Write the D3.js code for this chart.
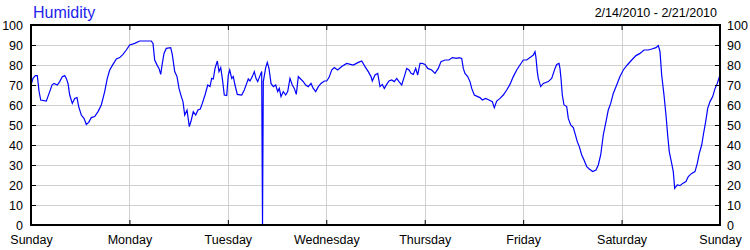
<!DOCTYPE html>
<html>
<head>
<meta charset="utf-8">
<script src="https://cdn.jsdelivr.net/npm/d3@7"></script>
<style>
  body { margin: 0; background: #fff; }
  text { font-family: "Liberation Sans", Arial, sans-serif; }
</style>
</head>
<body>
<div id="chart"></div>
<script>
// Humidity readings, hours since Sunday 2/14/2010 00:00
const hours = [
  0, 0.49, 1.05, 1.54, 1.95, 2.37, 3.73, 3.97, 4.56, 5.12, 5.61, 6.41, 7.0, 7.63, 8.22, 8.61,
  9.02, 9.44, 10.07, 10.66, 11.22, 11.63, 12.26, 12.92, 13.48, 14.07, 14.7, 15.53, 16.34, 17.14,
  17.97, 18.6, 19.19, 19.99, 20.8, 21.63, 22.43, 23.24, 24.07, 25.29, 26.5, 29.33, 29.75, 30.16,
  30.8, 31.21, 31.63, 32.02, 32.43, 32.99, 34.06, 34.45, 35.04, 35.6, 36.09, 36.65, 37.06, 37.48,
  38.04, 38.6, 39.09, 39.57, 40.16, 40.72, 41.28, 41.77,
  42.43, 43.09, 43.65, 44.06, 44.45, 44.87, 45.43, 45.84, 46.26, 46.65, 47.13, 47.72, 48.11,
  48.45, 48.94, 49.33, 49.74, 50.3, 51.38, 52.01, 52.59, 52.98, 53.4, 53.96, 54.45, 54.86, 55.28,
  55.84, 56.25, 56.45, 56.64, 57.23, 57.62, 58.03, 58.52, 59.08, 59.67, 60.15, 60.54, 60.96,
  61.52, 62.1, 62.59, 63.15, 63.71, 64.2, 64.69, 65.18, 65.76, 66.39, 66.98, 67.61, 68.27, 68.83,
  69.42, 70.05, 70.71, 71.52, 72.1, 72.66, 73.32, 73.95, 74.78, 75.76, 76.98, 78.59, 79.81,
  80.64, 81.44,
  82.24, 82.9, 83.22, 83.88, 84.54, 85.1, 85.66, 86.15, 86.73, 87.29, 87.95, 88.58, 89.17, 89.73,
  90.39, 91.02, 91.61, 92.17, 92.66, 93.22, 93.8, 94.29, 94.85, 95.41, 96.07, 96.73, 97.7, 98.51,
  99.31, 99.97, 100.95, 101.92, 102.73, 103.8, 104.36, 105.02, 105.41, 105.82, 106.48, 107.04,
  107.46, 108.09, 108.92, 109.48, 110.04, 110.87, 111.67, 112.48, 112.97, 113.55, 114.36, 115.16,
  115.99, 116.79, 117.6, 118.43, 119.23, 120.04, 120.87, 121.67, 122.48, 122.89, 123.13, 123.45,
  123.69, 124.28,
  124.91, 126.13, 126.96, 127.77, 128.18, 128.74, 128.98, 129.23, 129.55, 129.96, 130.62, 131.01,
  131.6, 132.23, 132.64, 133.2, 133.69, 134.28, 134.84, 135.5, 136.13, 136.96, 137.76, 138.32,
  138.91, 139.54, 140.2, 140.76, 141.35, 141.98, 142.81, 143.61, 144.42, 145.39, 146.47, 147.52,
  148.49, 149.47, 150.52, 151.35, 152.39, 152.96, 153.37, 153.78, 154.34, 154.83, 155.24, 155.63,
  156.22, 156.61, 156.95, 157.59, 158.24, 158.9, 159.7, 160.27, 161.1, 161.9, 162.46, 162.95,
  163.54, 163.93, 164.51, 165.0, 165.56, 166.22, 166.8, 167.34, 168
];
const humidity = [
  70, 73.3, 74.7, 74.7, 67, 62.5, 62, 63.3, 66.7, 70, 70.8, 70, 71.7, 74.2, 74.7, 73.3,
  70.8, 65, 60.8, 63.3, 63.7, 59.2, 55, 53.3, 50.3, 51.3, 53.7, 54.2, 56.7, 60,
  66.7, 73.3, 77.5, 80.3, 83, 83.7, 85.3, 87.5, 90, 90.8, 92, 92, 90.8, 82.5,
  79.7, 78.3, 75.3, 80.8, 85.8, 88.3, 88.7, 85.3, 76.7, 74.2, 68.3, 64.2, 61.7, 55,
  57.5, 49.2, 52.5, 56.7, 55, 57.5, 58, 60.8,
  65, 70, 69.2, 73.3, 73, 78.3, 82, 76.7, 78.7, 73.3, 65, 64.7, 75,
  77.5, 73.3, 74.2, 70, 65.3, 65, 67.5, 70.8, 73, 72, 74.2, 76.7, 73.3, 71.7,
  74.7, 76.7, 0, 71.7, 78.7, 81.3, 78.3, 70.8, 69.2, 70, 66.7, 68.3, 64.2,
  66.7, 65, 66.7, 73.3, 70, 68.3, 65.3, 74.2, 73, 71.7, 70, 69.2, 70.8, 68.3,
  66.7, 69.2, 70.8, 72, 72, 73.7, 77.5, 78.7, 77.5, 79.2, 80.8, 80, 81.3,
  82, 79.2,
  76.7, 74.2, 72, 75, 75.8, 69.2, 70.3, 68.3, 70.3, 72, 72.5, 71.7, 73.3, 71.7,
  70, 74.2, 78.3, 77.5, 75.8, 75.3, 78.3, 75, 80.8, 80.8, 80.3, 78.3, 77.5, 75.8,
  78.3, 81.7, 82.5, 82.5, 83.7, 83.3, 83.7, 83.3, 78.3, 75.8, 74.2, 71.7,
  68.3, 65, 64.2, 63.7, 62.5, 63.3, 62.5, 61.7, 58.7, 62, 63.3, 65,
  67.5, 70.3, 74.2, 77.5, 80, 82.5, 82.5, 83.7, 85, 86.7, 83.7, 76.7,
  73.3, 69.2,
  70.8, 71.7, 73.3, 78.3, 80.3, 80.8, 78.3, 73.3, 65, 60, 59.2, 53.3,
  50, 48.7, 45.8, 41.7, 39.2, 35, 32.5, 29.2, 28, 26.7, 27.5, 30,
  35, 45, 51.7, 57.5, 60.8, 65.8, 70, 74.2, 77.5, 80, 82.5, 84.7,
  85.8, 87.5, 87.5, 88, 88.7, 89.7, 86.7, 75, 65, 55, 45, 36.7,
  30.8, 26.7, 18.3, 20, 19.7, 20.8, 21.7, 24.2, 25.8, 26.7, 30.8, 35.8,
  40, 45, 51.7, 58.3, 61.7, 64.2, 68.3, 70.8, 75
];
const yTicks = [0, 10, 20, 30, 40, 50, 60, 70, 80, 90, 100];
const titleText = "Humidity";
const rangeText = "2/14/2010 - 2/21/2010";

const start = new Date(2010, 1, 14);
const end = new Date(2010, 1, 21);
const data = hours.map(function(h, i) {
  return { date: new Date(start.getTime() + h * 3600000), value: humidity[i] };
});

const margin = {top: 25, right: 30, bottom: 25, left: 31},
    width = 750 - margin.left - margin.right,
    height = 250 - margin.top - margin.bottom;

const root = d3.select("#chart")
  .append("svg")
  .attr("width", 750)
  .attr("height", 250);

const svg = root.append("g")
  .attr("transform", "translate(" + margin.left + "," + margin.top + ")");

const x = d3.scaleTime().domain([start, end]).range([0, width]);
const y = d3.scaleLinear().domain([0, 100]).range([height, 0]);
const days = d3.timeDay.range(start, d3.timeDay.offset(end, 1));

// grid lines
svg.append("g").selectAll("line")
  .data(yTicks)
  .enter().append("line")
  .attr("x1", 0).attr("x2", width)
  .attr("y1", function(d) { return Math.round(y(d)) + 0.5; })
  .attr("y2", function(d) { return Math.round(y(d)) + 0.5; })
  .style("stroke", "#d0d0d0");
svg.append("g").selectAll("line")
  .data(days)
  .enter().append("line")
  .attr("y1", 0).attr("y2", height)
  .attr("x1", function(d) { return Math.round(x(d)) + 0.5; })
  .attr("x2", function(d) { return Math.round(x(d)) + 0.5; })
  .style("stroke", "#d0d0d0");

// the humidity line
const line = d3.line()
  .x(function(d) { return x(d.date); })
  .y(function(d) { return y(d.value); });
svg.append("path")
  .datum(data)
  .attr("d", line)
  .style("fill", "none")
  .style("stroke", "#0000ff")
  .style("stroke-width", 1.2);

// axes, ticks point inward
const fmtDay = d3.timeFormat("%A");
const leftAxis = svg.append("g")
  .call(d3.axisLeft(y).tickValues(yTicks).tickSize(-5).tickPadding(8));
const rightAxis = svg.append("g")
  .attr("transform", "translate(" + width + ",0)")
  .call(d3.axisRight(y).tickValues(yTicks).tickSize(-5).tickPadding(7));
const bottomAxis = svg.append("g")
  .attr("transform", "translate(0," + height + ")")
  .call(d3.axisBottom(x).tickValues(days).tickFormat(fmtDay).tickSize(-5).tickPadding(10));
const topAxis = svg.append("g")
  .call(d3.axisTop(x).tickValues(days).tickFormat("").tickSize(-5));

[leftAxis, rightAxis, bottomAxis, topAxis].forEach(function(a) {
  a.select(".domain").remove();
  a.selectAll(".tick line").style("stroke", "#000");
  a.selectAll("text").style("font-size", "12.5px").style("fill", "#000")
    .style("font-family", "'Liberation Sans', Arial, sans-serif");
});
bottomAxis.selectAll("text").attr("dy", "0.71em");

// frame
svg.append("rect")
  .attr("x", 0).attr("y", 0)
  .attr("width", width).attr("height", height)
  .style("fill", "none")
  .style("stroke", "#000")
  .style("stroke-width", 2);

// titles
root.append("text")
  .attr("x", 33).attr("y", 18)
  .style("font-size", "16px")
  .style("fill", "#2222ee")
  .text(titleText);
root.append("text")
  .attr("x", 717).attr("y", 17)
  .attr("text-anchor", "end")
  .style("font-size", "12.5px")
  .style("fill", "#000")
  .text(rangeText);
</script>
</body>
</html>
